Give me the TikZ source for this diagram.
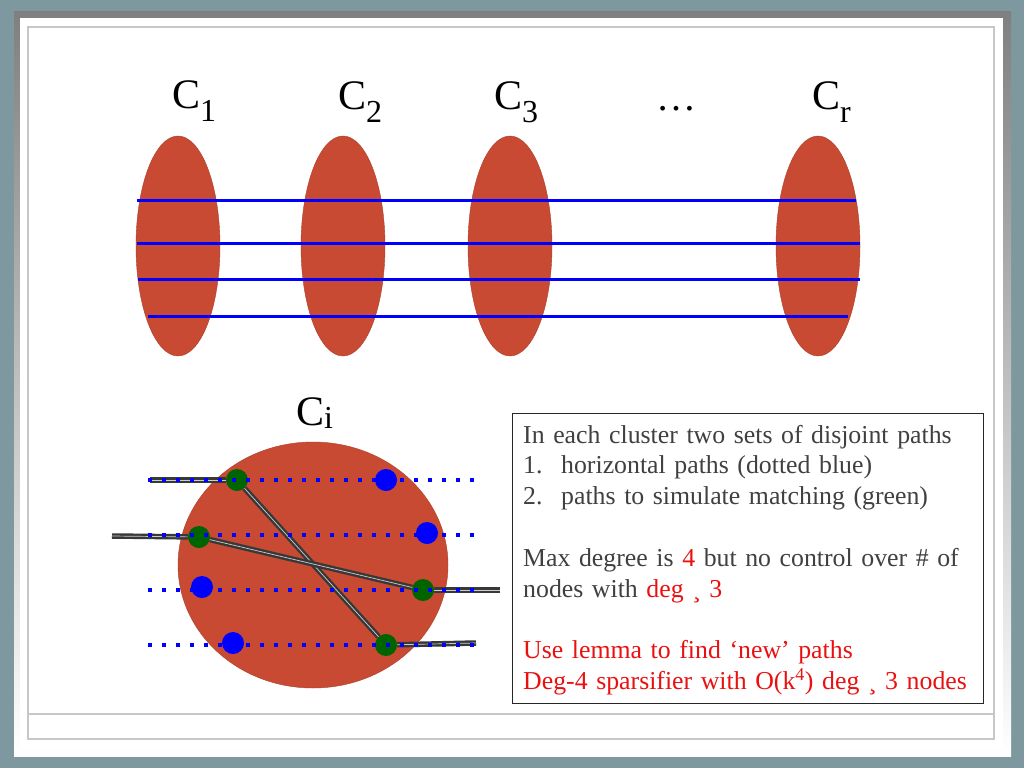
\documentclass[tikz,border=0pt]{standalone}
\usepackage{fontspec}
\setmainfont{Liberation Serif}
\usepackage{xcolor}
\usetikzlibrary{shapes.geometric, positioning}
\definecolor{slate}{RGB}{126,152,160}
\definecolor{shade}{RGB}{104,126,132}
\definecolor{brick}{RGB}{200,74,50}
\definecolor{ink}{RGB}{64,64,64}
\definecolor{hot}{RGB}{235,16,16}
\definecolor{leaf}{RGB}{0,100,0}
\newcommand{\hot}[1]{\textcolor{hot}{#1}}
\newcommand{\clab}[2][13pt]{{\fontsize{42}{42}\selectfont C}\raisebox{-#1}{\fontsize{32}{32}\selectfont #2}}

\begin{document}
\begin{tikzpicture}[x=1pt, y=-1pt,
    cluster/.style={ellipse, draw=brick!85!black, fill=brick, inner sep=0},
    route/.style={blue, line width=3pt},
    hop/.style={blue, line width=4pt, dash pattern=on 4pt off 10pt},
    wire/.style={draw=black!78, line width=2.4pt, double=white!80!black, double distance=0.7pt},
    bdot/.style={circle, fill=blue, minimum size=22pt, inner sep=0},
    gdot/.style={circle, fill=leaf, minimum size=22pt, inner sep=0},
    cname/.style={anchor=base west, inner sep=0}]
    \useasboundingbox (0,0) rectangle (1024,768);
    \fill[slate] (0,0) rectangle (1024,768);
    \fill[shade] (14,12) rectangle (1011,756);
    \fill[white] (20,18) rectangle (1003,748);
    \draw[black!22, line width=1.2pt] (28,27) rectangle (994,739);
    \draw[black!22, line width=1.2pt] (28,714) -- (994,714);

    \node[cluster, minimum width=84pt, minimum height=220pt] (e1) at (178,246) {};
    \node[cluster, minimum width=84pt, minimum height=220pt] (e2) at (343,246) {};
    \node[cluster, minimum width=84pt, minimum height=220pt] (e3) at (510,246) {};
    \node[cluster, minimum width=84pt, minimum height=220pt] (er) at (818,246) {};

    \node[cname] (c1) at (172,108) {\clab{1}};
    \node[cname] (c2) at (338,109) {\clab{2}};
    \node[cname] (c3) at (494,109) {\clab{3}};
    \node[anchor=base, font=\fontsize{40}{40}\selectfont] (dots) at (676,110) {…};
    \node[cname] (cr) at (812,109) {\clab{r}};

    \foreach \n/\y/\a/\b in {1/200/137/856, 2/243/137/860, 3/279/138/860, 4/316/148/848} {
        \coordinate (pl\n) at (\a,\y);
        \coordinate (pr\n) at (\b,\y);
        \draw[route] (pl\n) -- (pr\n);
    }

    \node[cname] (ci) at (296,425) {\clab[3pt]{i}};
    \node[cluster, minimum width=270pt, minimum height=246pt] (ei) at (313,565) {};

    \node[gdot] (g1) at (237,480) {};
    \node[gdot] (g2) at (199,537) {};
    \node[gdot] (g3) at (423,590) {};
    \node[gdot] (g4) at (386,645) {};
    \coordinate (w1) at (150,480);
    \coordinate (w2) at (112,536);
    \coordinate (w3) at (500,590);
    \coordinate (w4) at (476,643);
    \draw[wire] (w1) -- (g1);
    \draw[wire] (w2) -- (g2);
    \draw[wire] (g3) -- (w3);
    \draw[wire] (g4) -- (w4);
    \draw[wire] (g1) -- (g4);
    \draw[wire] (g2) -- (g3);

    \foreach \n/\y in {1/480, 2/535, 3/590, 4/645} {
        \coordinate (hl\n) at (148,\y);
        \coordinate (hr\n) at (480,\y);
        \draw[hop] (hl\n) -- (hr\n);
    }

    \node[bdot] (b1) at (386,480) {};
    \node[bdot] (b2) at (427,533) {};
    \node[bdot] (b3) at (202,587) {};
    \node[bdot] (b4) at (233,643) {};

    \draw[black!85, line width=1pt] (512,413) rectangle (983,703);
    \node[anchor=base west, inner sep=0, text width=480pt, align=left, text=ink,
        font=\fontsize{25.8}{30.8}\selectfont] (note) at (523,443)
        {In each cluster two sets of disjoint paths\\
        \makebox[38pt][l]{1.}horizontal paths (dotted blue)\\
        \makebox[38pt][l]{2.}paths to simulate matching (green)\\
        \mbox{}\\
        Max degree is \hot{4} but no control over \# of\\
        nodes with \hot{deg ¸ 3}\\
        \mbox{}\\
        \hot{Use lemma to find ‘new’ paths}\\
        \hot{Deg-4 sparsifier with O(k\textsuperscript{4}) deg ¸ 3 nodes}};
\end{tikzpicture}
\end{document}
